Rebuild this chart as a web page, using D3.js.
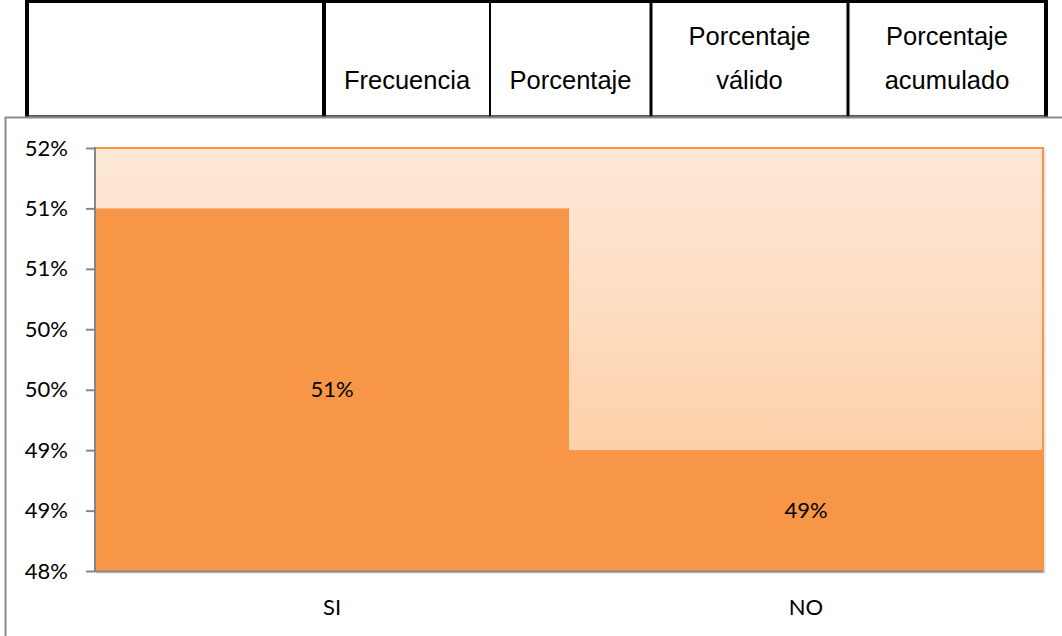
<!DOCTYPE html>
<html><head><meta charset="utf-8">
<script src="https://cdn.jsdelivr.net/npm/d3@7"></script>
<style>html,body{margin:0;padding:0;background:#fff;}svg{display:block;}</style>
</head><body>
<svg id="c" width="1062" height="636"></svg>
<script>
// ---- data ----
const categories = ["SI", "NO"];
const values = [0.51429, 0.49143];
const yTicks = [0.48, 0.48571, 0.49143, 0.49714, 0.50286, 0.50857, 0.51429, 0.52];
const yTickLabels = ["48%", "49%", "49%", "50%", "50%", "51%", "51%", "52%"];
const tableHeaders = [[""], ["Frecuencia"], ["Porcentaje"], ["Porcentaje", "válido"], ["Porcentaje", "acumulado"]];

// ---- layout ----
const svg = d3.select("#c");
const plot = {left: 95, right: 1043, top: 148, bottom: 571};
const fontChart = "Lato, 'Open Sans', sans-serif";
const fontTable = "'Liberation Sans', Arial, sans-serif";

// table header
const colEdges = [27, 324, 490, 651, 848, 1046];
const colWidths = [4, 4, 2, 3, 3, 4];
const tg = svg.append("g");
tg.append("rect").attr("x", 25).attr("y", 0).attr("width", 1023).attr("height", 116).attr("fill", "#fff");
tg.append("line").attr("x1", 25).attr("x2", 1048).attr("y1", 1.5).attr("y2", 1.5).attr("stroke", "#000").attr("stroke-width", 3);
colEdges.forEach((x, i) => {
  tg.append("line").attr("x1", x).attr("x2", x).attr("y1", 0).attr("y2", 117).attr("stroke", "#000").attr("stroke-width", colWidths[i]);
});
tg.append("line").attr("x1", 25).attr("x2", 1048).attr("y1", 116).attr("y2", 116).attr("stroke", "#222").attr("stroke-width", 1.5);
tableHeaders.forEach((lines, i) => {
  if (i === 0) return;
  const cx = (colEdges[i] + colEdges[i + 1]) / 2;
  const n = lines.length;
  lines.forEach((t, j) => {
    const by = 89 - (n - 1 - j) * 44;
    tg.append("text").attr("x", cx).attr("y", by)
      .attr("text-anchor", "middle").attr("font-family", fontTable).attr("font-size", 25.5)
      .attr("fill", "#000").text(t);
  });
});

// chart border
svg.append("rect").attr("x", 5.5).attr("y", 117.5).attr("width", 1200).attr("height", 700)
  .attr("fill", "none").attr("stroke", "#8c8c8c").attr("stroke-width", 2);

// gradient
const defs = svg.append("defs");
const grad = defs.append("linearGradient").attr("id", "bg").attr("x1", 0).attr("x2", 0).attr("y1", 0).attr("y2", 1);
grad.append("stop").attr("offset", "0%").attr("stop-color", "#FEE9D9");
grad.append("stop").attr("offset", "100%").attr("stop-color", "#FCC896");

const x = d3.scaleBand().domain(categories).range([plot.left, plot.right]).padding(0);
const y = d3.scaleLinear().domain([yTicks[0], yTicks[yTicks.length - 1]]).range([plot.bottom, plot.top]);

// shadow + plot background
svg.append("rect").attr("x", plot.left + 1).attr("y", plot.top + 1).attr("width", plot.right - plot.left + 2).attr("height", plot.bottom - plot.top + 2)
  .attr("fill", "#d8d8d8").attr("opacity", 0.6);
svg.append("rect").attr("x", plot.left).attr("y", plot.top).attr("width", plot.right - plot.left).attr("height", plot.bottom - plot.top)
  .attr("fill", "url(#bg)");

// bars
svg.append("g").selectAll("rect").data(categories).join("rect")
  .attr("x", d => x(d)).attr("width", x.bandwidth())
  .attr("y", (d, i) => y(values[i])).attr("height", (d, i) => y.range()[0] - y(values[i]))
  .attr("fill", "#F79646");

// plot border top/right
svg.append("path").attr("d", `M${plot.left},${plot.top}H${plot.right}V${plot.bottom}`)
  .attr("fill", "none").attr("stroke", "#F79646").attr("stroke-width", 2);

// data labels
svg.append("g").selectAll("text").data(categories).join("text")
  .attr("x", d => x(d) + x.bandwidth() / 2)
  .attr("y", (d, i) => (y(values[i]) + plot.bottom) / 2)
  .attr("dy", "0.35em").attr("text-anchor", "middle")
  .attr("font-family", fontChart).attr("font-size", 22).attr("fill", "#000")
  .text((d, i) => d3.format(".0%")(values[i]));

// y axis
const ya = svg.append("g").attr("transform", `translate(${plot.left},0)`)
  .call(d3.axisLeft(y).tickValues(yTicks).tickFormat((d, i) => yTickLabels[i]).tickSize(9).tickPadding(18));
ya.select(".domain").attr("stroke", "#868686").attr("stroke-width", 2).attr("d", `M0,${plot.top - 1}V${plot.bottom + 1}`);
ya.selectAll(".tick line").attr("stroke", "#868686").attr("stroke-width", 2);
ya.selectAll(".tick text").attr("font-family", fontChart).attr("font-size", 22).attr("fill", "#000");

// x axis
const xa = svg.append("g").attr("transform", `translate(0,${plot.bottom})`)
  .call(d3.axisBottom(x).tickSize(0).tickPadding(28));
xa.select(".domain").attr("stroke", "#868686").attr("stroke-width", 2);
xa.selectAll(".tick text").attr("font-family", fontChart).attr("font-size", 22).attr("fill", "#000");
</script>
</body></html>
